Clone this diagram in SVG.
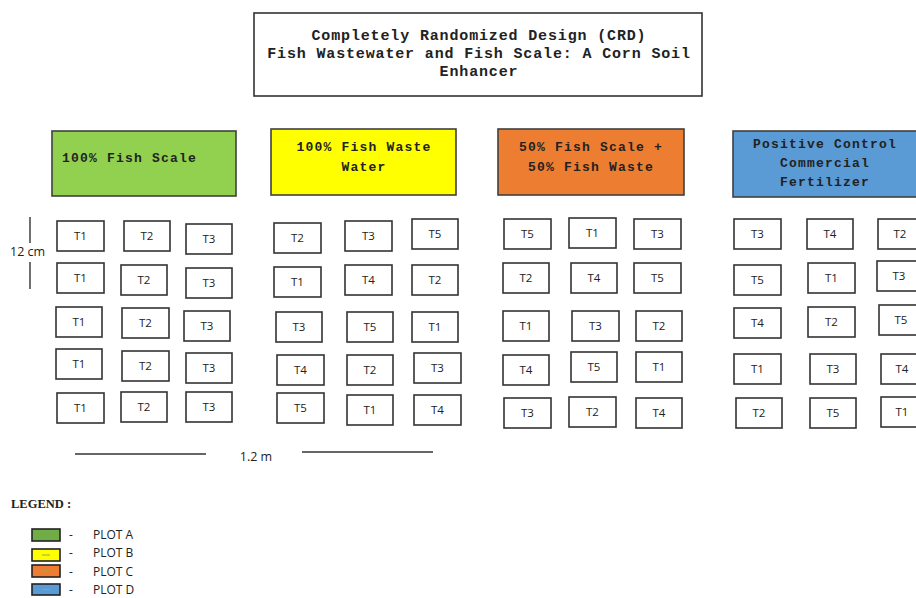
<svg xmlns="http://www.w3.org/2000/svg" width="916" height="598" viewBox="0 0 916 598">
<style>
.title{font-family:"Liberation Mono","Courier New",monospace;font-weight:bold;font-size:15px;letter-spacing:0.85px;fill:#222;text-anchor:middle}
.hdr{font-family:"Liberation Mono","Courier New",monospace;font-weight:bold;font-size:13px;letter-spacing:1.2px;fill:#222}
.mid{text-anchor:middle}
.box{fill:none;stroke:#333;stroke-width:1.6}
.plot rect{fill:#fff;stroke:#333;stroke-width:1.6}
.plot text{font-family:"Open Sans","Liberation Sans",sans-serif;font-size:11.5px;fill:#222;text-anchor:middle}
.lbl{font-family:"Open Sans","Liberation Sans",sans-serif;font-size:12.5px;fill:#222}
.leg{font-family:"Open Sans","Liberation Sans",sans-serif;font-size:12px;fill:#222}
.hb{stroke:#404040;stroke-width:1.6}
.sw{stroke:#222;stroke-width:1.6}
.dim{stroke:#333;stroke-width:1.4}
</style>
<rect width="916" height="598" fill="#fff"/>
<g id="title">
<rect x="254" y="13" width="448" height="83" class="box"/>
<text class="title" x="479" y="39.5">Completely Randomized Design (CRD)</text>
<text class="title" x="479" y="57.5">Fish Wastewater and Fish Scale: A Corn Soil</text>
<text class="title" x="479" y="75.5">Enhancer</text>
</g>
<g id="header-a">
<rect x="52" y="131" width="184" height="65" fill="#92D050" class="hb"/>
<text class="hdr" x="62" y="161.5">100% Fish Scale</text>
</g>
<g id="header-b">
<rect x="271" y="129" width="185" height="66" fill="#FFFF00" class="hb"/>
<text class="hdr mid" x="364" y="150.5">100% Fish Waste</text>
<text class="hdr mid" x="364" y="170.5">Water</text>
</g>
<g id="header-c">
<rect x="498" y="129" width="186" height="66" fill="#ED7D31" class="hb"/>
<text class="hdr mid" x="591" y="150.5">50% Fish Scale +</text>
<text class="hdr mid" x="591" y="170.5">50% Fish Waste</text>
</g>
<g id="header-d">
<rect x="733" y="131" width="186" height="66" fill="#5B9BD5" class="hb"/>
<text class="hdr mid" x="825" y="147.5">Positive Control</text>
<text class="hdr mid" x="825" y="166.5">Commercial</text>
<text class="hdr mid" x="825" y="185.5">Fertilizer</text>
</g>
<g id="plots-a" class="plot">
<rect x="57" y="221" width="47" height="30"/><text x="80.5" y="240">T1</text>
<rect x="124" y="221" width="46" height="30"/><text x="147" y="240">T2</text>
<rect x="186" y="224" width="46" height="30"/><text x="209" y="243">T3</text>
<rect x="57" y="263" width="47" height="30"/><text x="80.5" y="282">T1</text>
<rect x="121" y="265" width="46" height="30"/><text x="144" y="284">T2</text>
<rect x="186" y="268" width="46" height="30"/><text x="209" y="287">T3</text>
<rect x="56" y="307" width="46" height="30"/><text x="79" y="326">T1</text>
<rect x="122" y="308" width="47" height="30"/><text x="145.5" y="327">T2</text>
<rect x="184" y="311" width="46" height="30"/><text x="207" y="330">T3</text>
<rect x="56" y="349" width="46" height="30"/><text x="79" y="368">T1</text>
<rect x="122" y="351" width="47" height="30"/><text x="145.5" y="370">T2</text>
<rect x="186" y="353" width="46" height="30"/><text x="209" y="372">T3</text>
<rect x="57" y="393" width="47" height="30"/><text x="80.5" y="412">T1</text>
<rect x="121" y="392" width="46" height="30"/><text x="144" y="411">T2</text>
<rect x="186" y="392" width="46" height="30"/><text x="209" y="411">T3</text>
</g>
<g id="plots-b" class="plot">
<rect x="274" y="223" width="47" height="30"/><text x="297.5" y="242">T2</text>
<rect x="345" y="221" width="47" height="30"/><text x="368.5" y="240">T3</text>
<rect x="412" y="219" width="46" height="30"/><text x="435" y="238">T5</text>
<rect x="274" y="267" width="47" height="30"/><text x="297.5" y="286">T1</text>
<rect x="345" y="265" width="47" height="30"/><text x="368.5" y="284">T4</text>
<rect x="412" y="265" width="46" height="30"/><text x="435" y="284">T2</text>
<rect x="276" y="312" width="46" height="30"/><text x="299" y="331">T3</text>
<rect x="347" y="312" width="46" height="30"/><text x="370" y="331">T5</text>
<rect x="412" y="312" width="46" height="30"/><text x="435" y="331">T1</text>
<rect x="277" y="355" width="47" height="30"/><text x="300.5" y="374">T4</text>
<rect x="347" y="355" width="46" height="30"/><text x="370" y="374">T2</text>
<rect x="414" y="353" width="47" height="30"/><text x="437.5" y="372">T3</text>
<rect x="277" y="393" width="47" height="30"/><text x="300.5" y="412">T5</text>
<rect x="347" y="395" width="46" height="30"/><text x="370" y="414">T1</text>
<rect x="414" y="395" width="47" height="30"/><text x="437.5" y="414">T4</text>
</g>
<g id="plots-c" class="plot">
<rect x="504" y="219" width="47" height="30"/><text x="527.5" y="238">T5</text>
<rect x="569" y="218" width="47" height="30"/><text x="592.5" y="237">T1</text>
<rect x="634" y="219" width="47" height="30"/><text x="657.5" y="238">T3</text>
<rect x="503" y="263" width="46" height="30"/><text x="526" y="282">T2</text>
<rect x="571" y="263" width="46" height="30"/><text x="594" y="282">T4</text>
<rect x="634" y="263" width="47" height="30"/><text x="657.5" y="282">T5</text>
<rect x="503" y="311" width="46" height="30"/><text x="526" y="330">T1</text>
<rect x="572" y="311" width="47" height="30"/><text x="595.5" y="330">T3</text>
<rect x="636" y="311" width="46" height="30"/><text x="659" y="330">T2</text>
<rect x="503" y="355" width="46" height="30"/><text x="526" y="374">T4</text>
<rect x="571" y="352" width="46" height="30"/><text x="594" y="371">T5</text>
<rect x="636" y="352" width="46" height="30"/><text x="659" y="371">T1</text>
<rect x="504" y="398" width="47" height="30"/><text x="527.5" y="417">T3</text>
<rect x="569" y="397" width="47" height="30"/><text x="592.5" y="416">T2</text>
<rect x="636" y="398" width="46" height="30"/><text x="659" y="417">T4</text>
</g>
<g id="plots-d" class="plot">
<rect x="734" y="219" width="47" height="30"/><text x="757.5" y="238">T3</text>
<rect x="807" y="219" width="46" height="30"/><text x="830" y="238">T4</text>
<rect x="878" y="219" width="46" height="30"/><text x="900" y="238">T2</text>
<rect x="734" y="265" width="47" height="30"/><text x="757.5" y="284">T5</text>
<rect x="808" y="263" width="47" height="30"/><text x="831.5" y="282">T1</text>
<rect x="877" y="261" width="46" height="30"/><text x="899" y="280">T3</text>
<rect x="734" y="308" width="47" height="30"/><text x="757.5" y="327">T4</text>
<rect x="808" y="307" width="47" height="30"/><text x="831.5" y="326">T2</text>
<rect x="879" y="305" width="46" height="30"/><text x="901" y="324">T5</text>
<rect x="734" y="354" width="47" height="30"/><text x="757.5" y="373">T1</text>
<rect x="810" y="354" width="46" height="30"/><text x="833" y="373">T3</text>
<rect x="881" y="354" width="46" height="30"/><text x="902" y="373">T4</text>
<rect x="736" y="398" width="46" height="30"/><text x="759" y="417">T2</text>
<rect x="810" y="398" width="46" height="30"/><text x="833" y="417">T5</text>
<rect x="881" y="397" width="46" height="30"/><text x="902" y="416">T1</text>
</g>
<g id="dimensions">
<line x1="30" y1="217" x2="30" y2="243" class="dim"/>
<line x1="30" y1="262" x2="30" y2="289" class="dim"/>
<text class="lbl" x="10" y="255.5">12 cm</text>
<line x1="75" y1="454" x2="206" y2="454" class="dim"/>
<line x1="302" y1="452" x2="433" y2="452" class="dim"/>
<text class="lbl mid" x="256" y="460.5">1.2 m</text>
</g>
<g id="legend">
<text x="11" y="508" style="font-family:'Liberation Serif','Times New Roman',serif;font-weight:bold;font-size:12.5px;fill:#222">LEGEND :</text>
<rect x="32" y="529" width="28" height="12" fill="#70AD47" class="sw"/>
<rect x="32" y="549" width="28" height="12" fill="#FFFF00" class="sw"/>
<line x1="42" y1="555" x2="50" y2="555" stroke="#8DB04A" stroke-width="1"/>
<rect x="32" y="565" width="28" height="12" fill="#ED7D31" class="sw"/>
<line x1="42" y1="571" x2="50" y2="571" stroke="#8DB04A" stroke-width="1"/>
<rect x="32" y="584" width="28" height="11" fill="#5B9BD5" class="sw"/>
<line x1="42" y1="589.5" x2="50" y2="589.5" stroke="#8DB04A" stroke-width="1"/>
<text class="leg" x="69" y="538.5">-</text><text class="leg" x="93" y="538.5">PLOT A</text>
<text class="leg" x="69" y="557">-</text><text class="leg" x="93" y="557">PLOT B</text>
<text class="leg" x="69" y="576">-</text><text class="leg" x="93" y="576">PLOT C</text>
<text class="leg" x="69" y="594">-</text><text class="leg" x="93" y="594">PLOT D</text>
</g>
</svg>
